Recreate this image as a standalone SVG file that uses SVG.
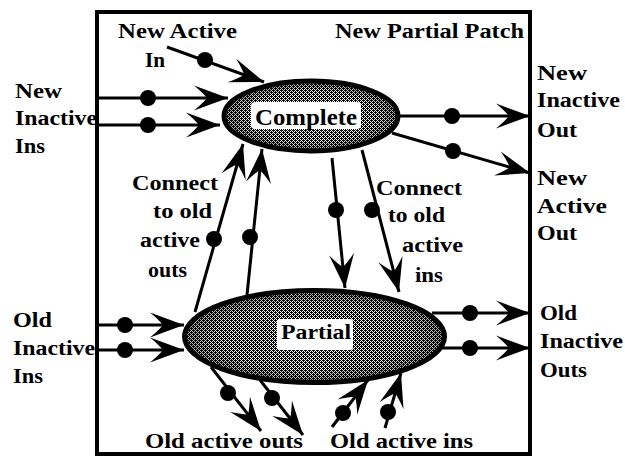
<svg xmlns="http://www.w3.org/2000/svg" width="625" height="462" viewBox="0 0 625 462">
  <defs>
    <!-- fine halftone used to shade the two patch bodies -->
    <pattern id="halftone" width="4" height="4" patternUnits="userSpaceOnUse">
      <rect width="4" height="4" fill="#ffffff"/>
      <g fill="#000000" shape-rendering="crispEdges">
        <rect x="0" y="0" width="1" height="1"/>
        <rect x="2" y="0" width="1" height="1"/>
        <rect x="1" y="1" width="1" height="1"/>
        <rect x="3" y="1" width="1" height="1"/>
        <rect x="0" y="2" width="1" height="1"/>
        <rect x="2" y="2" width="1" height="1"/>
        <rect x="1" y="3" width="1" height="1"/>
        <rect x="3" y="3" width="1" height="1"/>
        <rect x="1" y="2" width="1" height="1"/>
        <rect x="3" y="0" width="1" height="1"/>
      </g>
    </pattern>
    <!-- darker rim toward the outline of each patch -->
    <radialGradient id="rim" cx="0.5" cy="0.5" r="0.5">
      <stop offset="0.7" stop-color="#000" stop-opacity="0"/>
      <stop offset="1" stop-color="#000" stop-opacity="0.35"/>
    </radialGradient>
    <!-- barbed arrowhead, tip at the line end -->
    <marker id="barb" markerUnits="userSpaceOnUse" markerWidth="36" markerHeight="28" viewBox="0 0 36 28" refX="34" refY="14" orient="auto">
      <path d="M34,14 L0,1.5 Q9,9 13,14 Q9,19 0,26.5 Z" fill="#000"/>
    </marker>
  </defs>
  <style>
    .lbl { font-family: "Liberation Serif", "Times New Roman", serif; font-weight: bold; font-size: 20px; fill: #000; }
    .name { font-family: "Liberation Serif", "Times New Roman", serif; font-weight: bold; fill: #000; }
    .wire { stroke: #000; stroke-width: 3; fill: none; }
    .arrow { marker-end: url(#barb); }
    .dot { fill: #000; }
    .patch { fill: url(#halftone); stroke: #000; stroke-width: 5; }
    .shade { fill: url(#rim); stroke: none; }
    .tag { fill: #fff; }
  </style>

  <rect width="625" height="462" fill="#fff"/>

  <!-- outer patch frame -->
  <g id="frame">
    <rect x="97" y="12" width="433" height="442" fill="none" stroke="#000" stroke-width="4"/>
    <text class="lbl" x="335" y="38" textLength="189" lengthAdjust="spacingAndGlyphs">New Partial Patch</text>
  </g>

  <!-- connectors -->
  <g id="connectors">
    <!-- new inputs into Complete -->
    <line class="wire arrow" x1="167" y1="47" x2="264" y2="82"/>
    <circle class="dot" cx="205" cy="60" r="8"/>
    <line class="wire arrow" x1="97" y1="98" x2="228" y2="98"/>
    <circle class="dot" cx="148" cy="98" r="8"/>
    <line class="wire arrow" x1="97" y1="125" x2="220" y2="125"/>
    <circle class="dot" cx="148" cy="125" r="8"/>

    <!-- Complete outputs -->
    <line class="wire arrow" x1="398" y1="116" x2="530" y2="116"/>
    <circle class="dot" cx="452" cy="116" r="8"/>
    <line class="wire arrow" x1="392" y1="133" x2="530" y2="173"/>
    <circle class="dot" cx="453" cy="151" r="8"/>

    <!-- Partial up to Complete -->
    <line class="wire arrow" x1="195" y1="312" x2="243" y2="144"/>
    <circle class="dot" cx="214" cy="239" r="8"/>
    <line class="wire arrow" x1="247" y1="295" x2="262" y2="149"/>
    <circle class="dot" cx="250" cy="237" r="8"/>

    <!-- Complete down to Partial -->
    <line class="wire arrow" x1="332" y1="158" x2="345" y2="288"/>
    <circle class="dot" cx="336" cy="210" r="8"/>
    <line class="wire arrow" x1="362" y1="150" x2="399" y2="292"/>
    <circle class="dot" cx="372" cy="210" r="8"/>

    <!-- old inactive inputs into Partial -->
    <line class="wire arrow" x1="97" y1="325" x2="184" y2="325"/>
    <circle class="dot" cx="125" cy="325" r="8"/>
    <line class="wire arrow" x1="97" y1="350" x2="184" y2="350"/>
    <circle class="dot" cx="125" cy="350" r="8"/>

    <!-- Partial inactive outputs -->
    <line class="wire arrow" x1="432" y1="313" x2="530" y2="313"/>
    <circle class="dot" cx="470" cy="313" r="8"/>
    <line class="wire arrow" x1="440" y1="348" x2="530" y2="348"/>
    <circle class="dot" cx="470" cy="348" r="8"/>

    <!-- old active outs -->
    <line class="wire arrow" x1="211" y1="367" x2="261" y2="431"/>
    <circle class="dot" cx="228" cy="393" r="8"/>
    <line class="wire arrow" x1="260" y1="380" x2="303" y2="435"/>
    <circle class="dot" cx="272" cy="398" r="8"/>

    <!-- old active ins -->
    <line class="wire arrow" x1="332" y1="427" x2="368" y2="380"/>
    <circle class="dot" cx="343" cy="413" r="8"/>
    <line class="wire arrow" x1="385" y1="428" x2="401" y2="373"/>
    <circle class="dot" cx="388" cy="412" r="8"/>
  </g>

  <!-- Complete patch -->
  <g id="complete">
    <ellipse class="patch" cx="311" cy="116" rx="87" ry="35"/>
    <ellipse class="shade" cx="311" cy="116" rx="85" ry="33"/>
    <rect class="tag" x="251" y="102" width="110" height="27" rx="4"/>
    <text class="name" x="255" y="125" font-size="23" textLength="102" lengthAdjust="spacingAndGlyphs">Complete</text>
  </g>

  <!-- Partial patch -->
  <g id="partial">
    <ellipse class="patch" cx="314.5" cy="336.5" rx="130" ry="46"/>
    <ellipse class="shade" cx="314.5" cy="336.5" rx="128" ry="44"/>
    <rect class="tag" x="277" y="319" width="76" height="31" rx="3"/>
    <text class="name" x="281" y="339" font-size="21" textLength="70" lengthAdjust="spacingAndGlyphs">Partial</text>
  </g>

  <!-- port labels -->
  <g id="labels">
    <text class="lbl" x="118" y="38" textLength="119" lengthAdjust="spacingAndGlyphs">New Active</text>
    <text class="lbl" x="145" y="67" textLength="20" lengthAdjust="spacingAndGlyphs">In</text>

    <text class="lbl" x="15" y="98" textLength="47" lengthAdjust="spacingAndGlyphs">New</text>
    <text class="lbl" x="15" y="125" textLength="82" lengthAdjust="spacingAndGlyphs">Inactive</text>
    <text class="lbl" x="15" y="153" textLength="30" lengthAdjust="spacingAndGlyphs">Ins</text>

    <text class="lbl" x="132" y="190" textLength="86" lengthAdjust="spacingAndGlyphs">Connect</text>
    <text class="lbl" x="153" y="218" textLength="59" lengthAdjust="spacingAndGlyphs">to old</text>
    <text class="lbl" x="140" y="247" textLength="60" lengthAdjust="spacingAndGlyphs">active</text>
    <text class="lbl" x="148" y="277" textLength="39" lengthAdjust="spacingAndGlyphs">outs</text>

    <text class="lbl" x="376" y="195" textLength="86" lengthAdjust="spacingAndGlyphs">Connect</text>
    <text class="lbl" x="388" y="222" textLength="57" lengthAdjust="spacingAndGlyphs">to old</text>
    <text class="lbl" x="402" y="252" textLength="61" lengthAdjust="spacingAndGlyphs">active</text>
    <text class="lbl" x="415" y="282" textLength="28" lengthAdjust="spacingAndGlyphs">ins</text>

    <text class="lbl" x="13" y="327" textLength="39" lengthAdjust="spacingAndGlyphs">Old</text>
    <text class="lbl" x="13" y="355" textLength="82" lengthAdjust="spacingAndGlyphs">Inactive</text>
    <text class="lbl" x="13" y="383" textLength="30" lengthAdjust="spacingAndGlyphs">Ins</text>

    <text class="lbl" x="537" y="80" textLength="50" lengthAdjust="spacingAndGlyphs">New</text>
    <text class="lbl" x="537" y="107" textLength="83" lengthAdjust="spacingAndGlyphs">Inactive</text>
    <text class="lbl" x="537" y="137" textLength="40" lengthAdjust="spacingAndGlyphs">Out</text>

    <text class="lbl" x="537" y="185" textLength="50" lengthAdjust="spacingAndGlyphs">New</text>
    <text class="lbl" x="537" y="213" textLength="70" lengthAdjust="spacingAndGlyphs">Active</text>
    <text class="lbl" x="537" y="240" textLength="40" lengthAdjust="spacingAndGlyphs">Out</text>

    <text class="lbl" x="540" y="320" textLength="37" lengthAdjust="spacingAndGlyphs">Old</text>
    <text class="lbl" x="540" y="348" textLength="83" lengthAdjust="spacingAndGlyphs">Inactive</text>
    <text class="lbl" x="540" y="377" textLength="47" lengthAdjust="spacingAndGlyphs">Outs</text>

    <text class="lbl" x="145" y="448" textLength="158" lengthAdjust="spacingAndGlyphs">Old active outs</text>
    <text class="lbl" x="330" y="448" textLength="143" lengthAdjust="spacingAndGlyphs">Old active ins</text>
  </g>
</svg>
